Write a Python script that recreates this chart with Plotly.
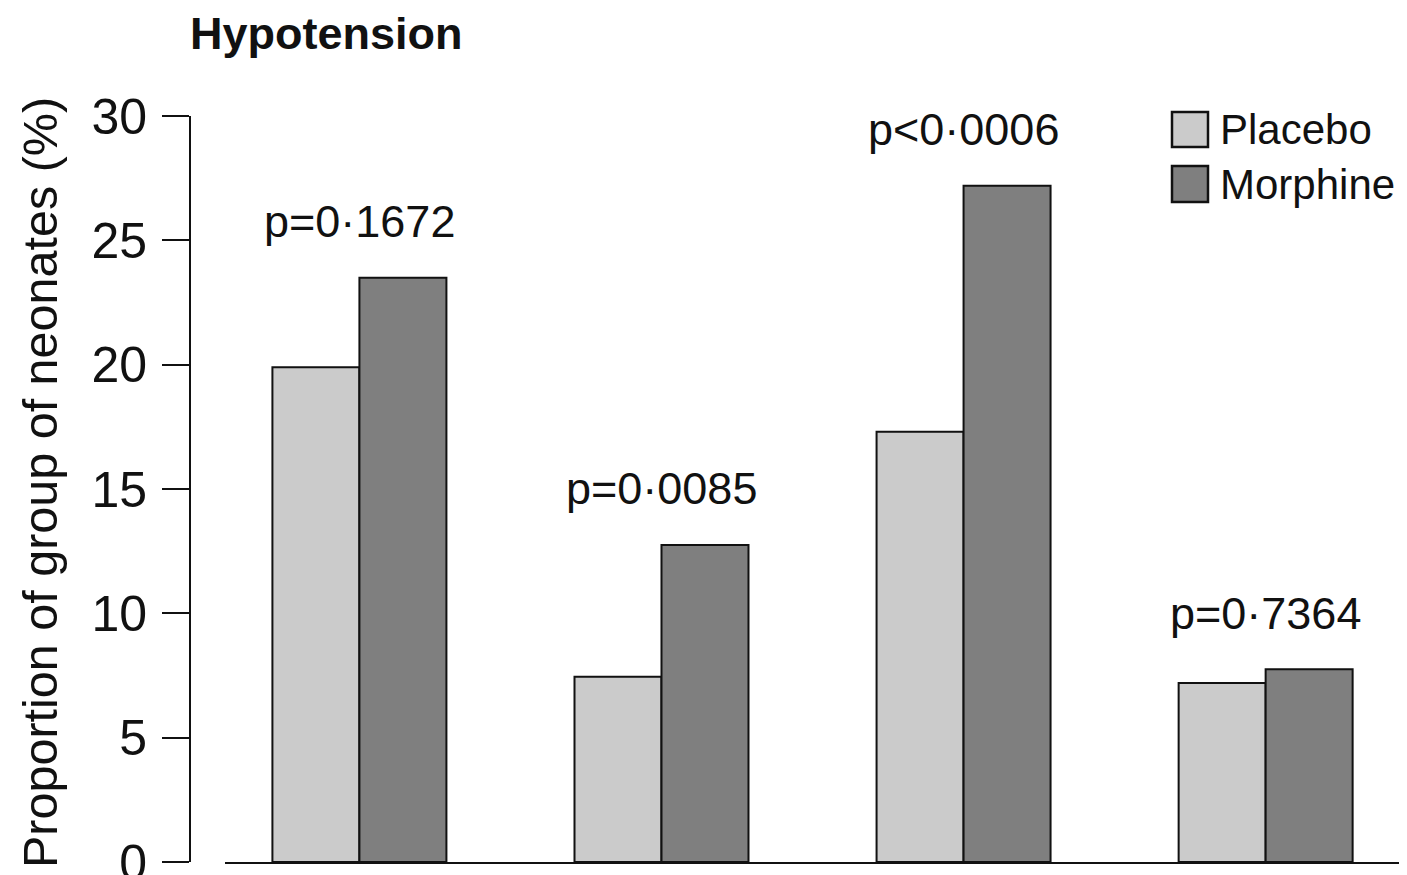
import plotly.graph_objects as go

categories = ["Group 1", "Group 2", "Group 3", "Group 4"]
placebo = [19.9, 7.45, 17.3, 7.2]
morphine = [23.5, 12.75, 27.2, 7.75]
p_labels = ["p=0·1672", "p=0·0085", "p<0·0006", "p=0·7364"]
y_ticks = [0, 5, 10, 15, 20, 25, 30]

OFF = 8  # page body margin
W, H = 1407 - OFF, 875 - OFF
L, R, T = 190 - OFF, 0, 116 - OFF
B = H - (862 - OFF)
PW, PH = W - L - R, H - T - B

def px(x):
    return (x - OFF - L) / PW

def py(y):
    return (H - B - (y - OFF)) / PH

FONT = "Liberation Sans, Arial, sans-serif"
LIGHT = "#cbcbcb"
DARK = "#7f7f7f"
INK = "#111111"

fig = go.Figure()
fig.add_trace(go.Bar(x=categories, y=placebo, name="Placebo",
                     marker=dict(color=LIGHT, line=dict(color=INK, width=2))))
fig.add_trace(go.Bar(x=categories, y=morphine, name="Morphine",
                     marker=dict(color=DARK, line=dict(color=INK, width=2))))

annotations = []
for c, a, b, lab in zip(categories, placebo, morphine, p_labels):
    annotations.append(dict(x=c, y=max(a, b), xref="x", yref="y", text=lab,
                            showarrow=False, yanchor="middle", yshift=56,
                            font=dict(family=FONT, size=45, color=INK)))

# y-axis title
annotations.append(dict(x=px(40), y=py(483), xref="paper", yref="paper",
                        text="Proportion of group of neonates (%)", textangle=-90,
                        showarrow=False, xanchor="center", yanchor="middle",
                        font=dict(family=FONT, size=48.5, color=INK)))
# chart title
annotations.append(dict(x=px(188), y=py(33), xref="paper", yref="paper",
                        text="<b>Hypotension</b>", showarrow=False,
                        xanchor="left", yanchor="middle",
                        font=dict(family=FONT, size=45, color=INK)))

# manual legend
shapes = []
legend_items = [("Placebo", LIGHT, 112, 147, 129), ("Morphine", DARK, 166, 202, 185)]
for name, col, y0, y1, yc in legend_items:
    shapes.append(dict(type="rect", xref="paper", yref="paper",
                       x0=px(1172), x1=px(1208), y0=py(y1), y1=py(y0),
                       fillcolor=col, line=dict(color=INK, width=2.5)))
    annotations.append(dict(x=px(1218), y=py(yc), xref="paper", yref="paper",
                            text=name, showarrow=False, xanchor="left", yanchor="middle",
                            font=dict(family=FONT, size=42, color=INK)))

fig.update_layout(
    width=W, height=H,
    margin=dict(l=L, r=R, t=T, b=B, autoexpand=False),
    paper_bgcolor="white", plot_bgcolor="white",
    barmode="group", bargap=0.424, bargroupgap=0,
    showlegend=False,
    annotations=annotations, shapes=shapes,
    xaxis=dict(domain=[px(225), 1], range=[-0.445, 3.468], showline=True,
               linecolor=INK, linewidth=2, ticks="", showticklabels=False,
               showgrid=False, zeroline=False, automargin=False),
    yaxis=dict(anchor="free", position=0, range=[0, 30], tickvals=y_ticks,
               showline=True, linecolor=INK, linewidth=2,
               ticks="outside", ticklen=27, tickwidth=2, tickcolor=INK,
               ticklabelstandoff=5, ticklabeloverflow="allow", automargin=False,
               tickfont=dict(family=FONT, size=50, color=INK),
               showgrid=False, zeroline=False),
)

fig.write_html("out.html")
